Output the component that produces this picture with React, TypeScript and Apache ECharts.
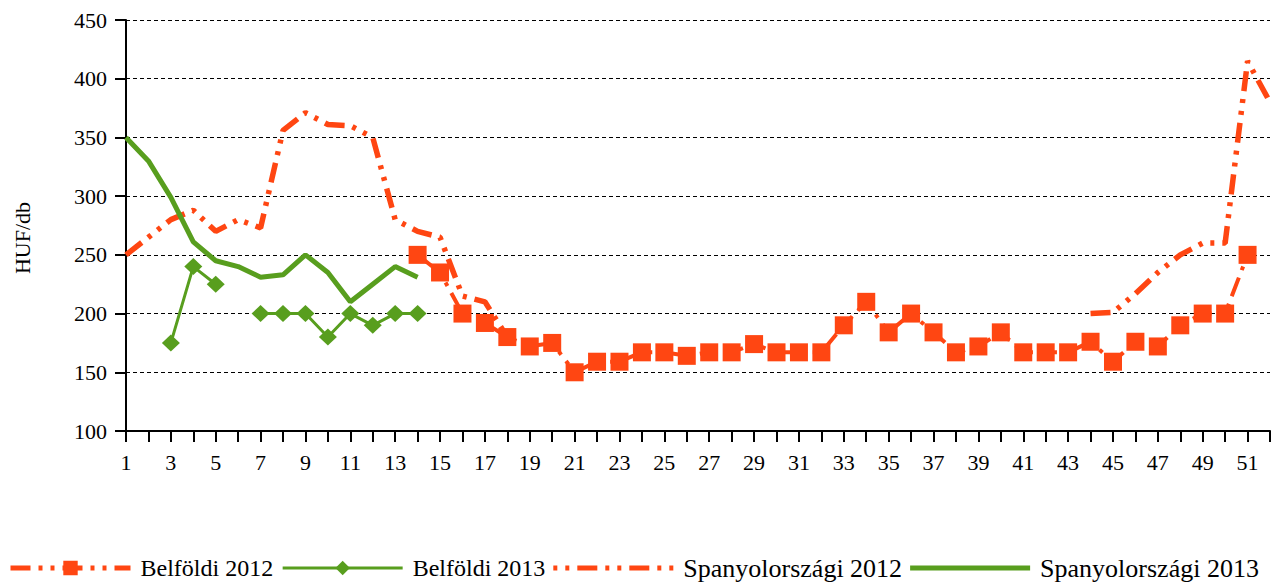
import React, { useEffect, useRef } from "react";
import * as echarts from "echarts";

const weeks = [
  "1", "2", "3", "4", "5", "6", "7", "8", "9", "10", "11", "12", "13",
  "14", "15", "16", "17", "18", "19", "20", "21", "22", "23", "24", "25", "26",
  "27", "28", "29", "30", "31", "32", "33", "34", "35", "36", "37", "38", "39",
  "40", "41", "42", "43", "44", "45", "46", "47", "48", "49", "50", "51", "52",
];

const belfoldi2012 = [
  null, null, null, null, null, null, null, null, null, null, null, null, null,
  250, 235, 200, 192, 180, 172, 175, 150, 159, 159, 167, 167, 164,
  167, 167, 174, 167, 167, 167, 190, 210, 184, 200, 184, 167, 172,
  184, 167, 167, 167, 176, 159, 176, 172, 190, 200, 200, 250, null,
];

const belfoldi2013 = [
  null, null, 175, 240, 225, null, 200, 200, 200, 180, 200, 190, 200,
  200, null, null, null, null, null, null, null, null, null, null, null, null,
  null, null, null, null, null, null, null, null, null, null, null, null, null,
  null, null, null, null, null, null, null, null, null, null, null, null, null,
];

const spanyol2012 = [
  250, 265, 280, 288, 270, 280, 273, 356, 371, 361, 360, 350, 280,
  270, 265, 215, 210, 180, null, null, null, null, null, null, null, null,
  null, null, null, null, null, null, null, null, null, null, null, null, null,
  null, null, null, null, 200, 201, 217, 235, 250, 260, 260, 415, 380,
];

const spanyol2013 = [
  350, 330, 299, 261, 245, 240, 231, 233, 250, 235, 210, 225, 240,
  231, null, null, null, null, null, null, null, null, null, null, null, null,
  null, null, null, null, null, null, null, null, null, null, null, null, null,
  null, null, null, null, null, null, null, null, null, null, null, null, null,
];

const seriesNames = ["Belföldi 2012", "Belföldi 2013", "Spanyolországi 2012", "Spanyolországi 2013"];
const yTicks = { min: 100, max: 450, step: 50 };
const yAxisTitle = "HUF/db";

const ORANGE = "#FF4612";
const GREEN = "#589E1E";
const FONT = "'Liberation Serif', 'Times New Roman', serif";
const DASHDOT = [20, 8, 4, 8, 4, 8];

const ICON_SOLID = "path://M0,0H120V5H0Z";
const ICON_DASHDOT =
  "path://M0,0H4V5H0Z M12,0H16V5H12Z M24,0H44V5H24Z M52,0H56V5H52Z M64,0H68V5H64Z M76,0H96V5H76Z M104,0H108V5H104Z M116,0H120V5H116Z";

export default function App() {
  const ref = useRef<HTMLDivElement>(null);
  useEffect(() => {
    document.body.style.margin = "0";
    const chart = echarts.init(ref.current!, null, { renderer: "svg" });
    chart.setOption({
      animation: false,
      backgroundColor: "#fff",
      textStyle: { fontFamily: FONT, color: "#000" },
      grid: { left: 126, right: 14, top: 20, bottom: 153, containLabel: false },
      legend: {
        top: 555,
        left: 8,
        padding: 0,
        itemWidth: 120,
        itemHeight: 18,
        itemGap: 8,
        textStyle: { fontFamily: FONT, fontSize: 24, color: "#000", padding: [0, 0, 0, 5] },
        data: [
          { name: seriesNames[0], lineStyle: { width: 5, type: DASHDOT } },
          { name: seriesNames[1], lineStyle: { width: 3 } },
          { name: seriesNames[2], icon: ICON_DASHDOT, itemStyle: { color: ORANGE }, textStyle: { fontSize: 26 } },
          { name: seriesNames[3], icon: ICON_SOLID, itemStyle: { color: GREEN }, textStyle: { fontSize: 26 } },
        ],
      },
      graphic: [
        {
          type: "text",
          x: 22,
          y: 238,
          rotation: Math.PI / 2,
          style: {
            text: yAxisTitle,
            fontFamily: FONT,
            fontSize: 22,
            fill: "#000",
            align: "center",
            verticalAlign: "middle",
          },
        },
      ],
      xAxis: {
        type: "category",
        data: weeks,
        boundaryGap: false,
        axisLine: { lineStyle: { color: "#000", width: 2 } },
        axisTick: { show: true, interval: 0, length: 11, lineStyle: { color: "#000", width: 2 } },
        axisLabel: { interval: 1, fontFamily: FONT, fontSize: 22, color: "#000", margin: 20 },
        splitLine: { show: false },
      },
      yAxis: {
        type: "value",
        min: yTicks.min,
        max: yTicks.max,
        interval: yTicks.step,
        axisLine: { show: true, lineStyle: { color: "#000", width: 2 } },
        axisTick: { show: true, length: 11, lineStyle: { color: "#000", width: 2 } },
        axisLabel: { fontFamily: FONT, fontSize: 22, color: "#000", margin: 19 },
        splitLine: { show: true, lineStyle: { color: "#000", width: 1, type: [4, 3] } },
      },
      series: [
        {
          name: seriesNames[0],
          type: "line",
          data: belfoldi2012,
          z: 5,
          symbol: "rect",
          symbolSize: 18,
          showAllSymbol: true,
          itemStyle: { color: ORANGE },
          lineStyle: { color: ORANGE, width: 4, type: DASHDOT },
        },
        {
          name: seriesNames[1],
          type: "line",
          data: belfoldi2013,
          z: 4,
          symbol: "diamond",
          symbolSize: [18, 17],
          showAllSymbol: true,
          itemStyle: { color: GREEN },
          lineStyle: { color: GREEN, width: 3 },
        },
        {
          name: seriesNames[2],
          type: "line",
          data: spanyol2012,
          z: 3,
          symbol: "none",
          showSymbol: false,
          itemStyle: { color: ORANGE },
          lineStyle: { color: ORANGE, width: 5.5, type: DASHDOT },
        },
        {
          name: seriesNames[3],
          type: "line",
          data: spanyol2013,
          z: 3,
          symbol: "none",
          showSymbol: false,
          itemStyle: { color: GREEN },
          lineStyle: { color: GREEN, width: 5 },
        },
      ],
    });
    return () => chart.dispose();
  }, []);
  return <div ref={ref} style={{ width: 1284, height: 584 }} />;
}
